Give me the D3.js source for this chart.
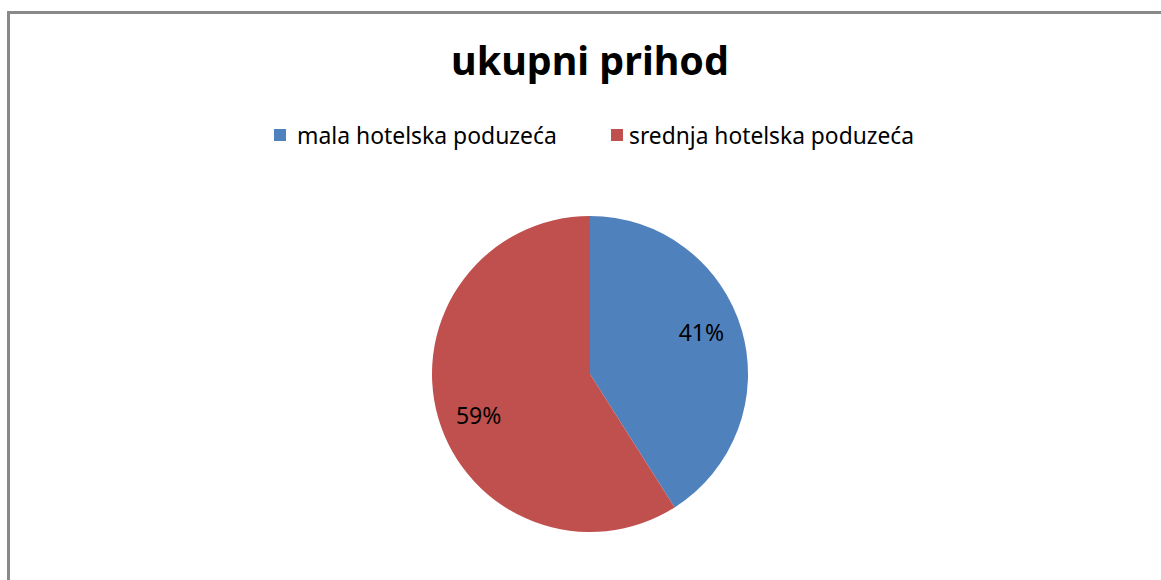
<!DOCTYPE html>
<html>
<head>
<meta charset="utf-8">
<script src="https://cdn.jsdelivr.net/npm/d3@7"></script>
<style>
  body { margin: 0; background: #fff; }
  svg { display: block; }
  text { font-family: "Noto Sans", "Open Sans", sans-serif; }
</style>
</head>
<body>
<div id="chart"></div>
<script>
// chart data
var categories = ["mala hotelska poduzeća", "srednja hotelska poduzeća"];
var values = [41, 59];
var colors = ["#4f81bd", "#c0504d"];
var title = "ukupni prihod";

var width = 1161, height = 580;

var svg = d3.select("#chart").append("svg")
    .attr("width", width)
    .attr("height", height);

// outer chart frame (runs off the right and bottom edges)
svg.append("rect")
    .attr("x", 8.5)
    .attr("y", 12.5)
    .attr("width", width + 20)
    .attr("height", height + 20)
    .attr("fill", "#fff")
    .attr("stroke", "#898989")
    .attr("stroke-width", 3);

// fit a text element's font size so it spans a given width
function fitText(sel, targetWidth, startSize){
    sel.style("font-size", startSize + "px");
    var w = sel.node().getComputedTextLength();
    sel.style("font-size", (startSize * targetWidth / w) + "px");
}

// title
var titleText = svg.append("text")
    .attr("x", 590)
    .attr("y", 75)
    .attr("text-anchor", "middle")
    .attr("font-weight", "bold")
    .attr("fill", "#000")
    .text(title);
fitText(titleText, 278, 36);

// legend
var legendX = [274, 611];
var legend = svg.append("g").attr("class", "legend");
categories.forEach(function(c, i){
    var g = legend.append("g");
    g.append("rect")
        .attr("x", legendX[i])
        .attr("y", 129)
        .attr("width", 12)
        .attr("height", 12)
        .attr("fill", colors[i]);
    var t = g.append("text")
        .attr("x", legendX[i] + 23 - (i * 5))
        .attr("y", 144)
        .attr("fill", "#000")
        .text(c);
    fitText(t, i == 0 ? 260 : 285, 20);
});

// pie
var cx = 590, cy = 374, radius = 158;

var pie = d3.pie().sort(null).value(function(d){ return d; });
var arc = d3.arc().innerRadius(0).outerRadius(radius);
var arcs = pie(values);

var pieG = svg.append("g")
    .attr("transform", "translate(" + cx + "," + cy + ")");

pieG.selectAll("path.slice")
    .data(arcs)
    .enter()
    .append("path")
    .attr("class", "slice")
    .attr("d", arc)
    .attr("fill", function(d, i){ return colors[i]; });

// data labels placed along the slice mid angle
var total = d3.sum(values);
var labelRx = 116, labelRy = 149;
pieG.selectAll("text.label")
    .data(arcs)
    .enter()
    .append("text")
    .attr("class", "label")
    .attr("x", function(d){ return labelRx * Math.sin((d.startAngle + d.endAngle) / 2); })
    .attr("y", function(d){ return -labelRy * Math.cos((d.startAngle + d.endAngle) / 2); })
    .attr("dy", "0.36em")
    .attr("text-anchor", "middle")
    .attr("fill", "#000")
    .style("font-size", "23px")
    .text(function(d){ return Math.round(d.value / total * 100) + "%"; });
</script>
</body>
</html>
